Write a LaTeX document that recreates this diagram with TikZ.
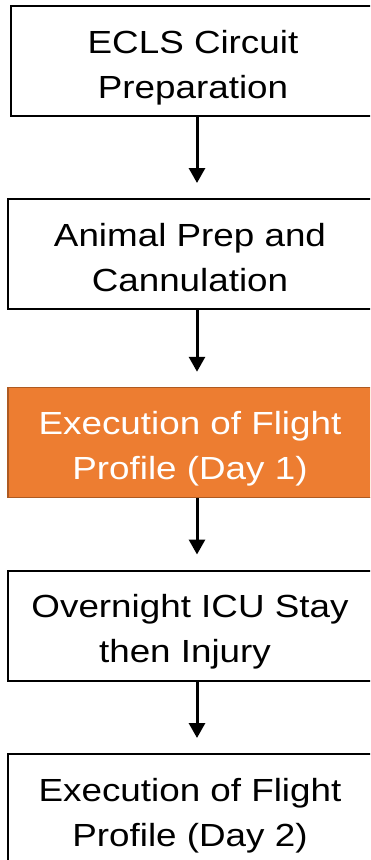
\documentclass[tikz,border=0pt]{standalone}
\usepackage{fontspec}
\setmainfont{Liberation Sans}[FakeStretch=1.15]
\usetikzlibrary{arrows.meta}
\definecolor{orfill}{HTML}{ED7D31}
\definecolor{ordraw}{HTML}{AE5A21}
\newcommand\tpstrut{\rule{0pt}{37pt}}
\newcommand\btstrut{\rule[-8pt]{0pt}{8pt}}
\begin{document}
\begin{tikzpicture}[x=1pt,y=-1pt,
  box/.style={draw=black, line width=2pt, fill=white, minimum width=364pt,
    minimum height=110pt, align=center, inner sep=0pt,
    font=\fontsize{32}{45}\selectfont, text=black},
  hot/.style={box, fill=orfill, draw=ordraw, line width=1.5pt, text=white},
  arr/.style={line width=3pt, -{Triangle[width=16pt,length=15pt]}, shorten >=15pt}]
\clip (0,0) rectangle (370,860);
\fill[white] (0,0) rectangle (370,860);
\node[box] (b1) at (193,61)    {\tpstrut ECLS Circuit\\Preparation\btstrut};
\node[box] (b2) at (190,254)   {\tpstrut Animal Prep and\\Cannulation\btstrut};
\node[hot] (b3) at (190,442.5) {\tpstrut Execution of Flight\\Profile (Day 1)\btstrut};
\node[box] (b4) at (190,625.5) {\tpstrut Overnight ICU Stay\\then Injury\hspace*{10pt}\btstrut};
\node[box] (b5) at (190,809)   {\tpstrut Execution of Flight\\Profile (Day 2)\btstrut};
\coordinate (ax) at (197,0);
\draw[arr] (b1.south -| ax) -- (b2.north -| ax);
\draw[arr] (b2.south -| ax) -- (b3.north -| ax);
\draw[arr] (b3.south -| ax) -- (b4.north -| ax);
\draw[arr] (b4.south -| ax) -- (b5.north -| ax);
\end{tikzpicture}
\end{document}
